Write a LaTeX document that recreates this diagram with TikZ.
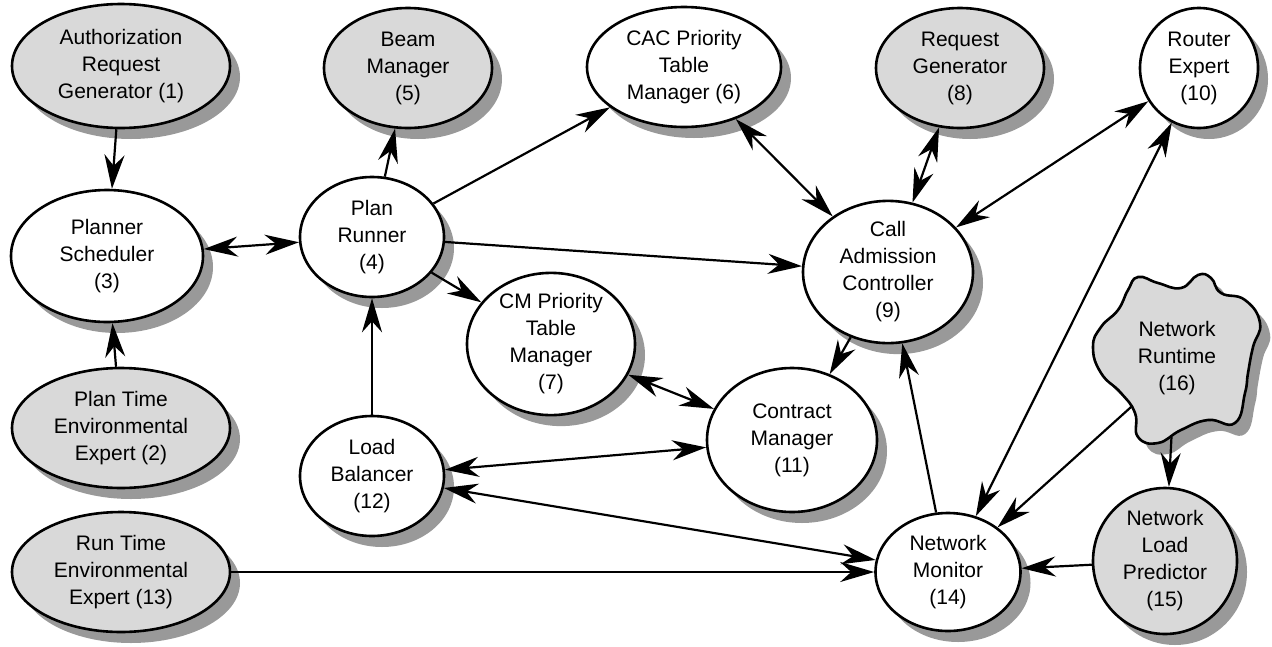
\documentclass[tikz,border=0pt]{standalone}
\usepackage{fontspec}
\setmainfont{Liberation Sans}
\usetikzlibrary{arrows.meta,shapes.geometric,shadows}
\definecolor{lgray}{RGB}{217,217,217}
\definecolor{sgray}{RGB}{153,153,153}
\tikzset{
  agent/.style={ellipse, draw, line width=2.6pt, fill=white, inner sep=0pt, align=center,
    font=\fontsize{21pt}{27pt}\selectfont,
    drop shadow={shadow xshift=10pt, shadow yshift=-11pt, fill=sgray, opacity=1}},
  extagent/.style={agent, fill=lgray},
  sz/.style 2 args={minimum width=#1pt, minimum height=#2pt},
  bigtip/.tip={Stealth[length=34pt 0, width=20pt 0, inset=11pt 0]},
  arr/.style={-bigtip, line width=2.2pt},
  darr/.style={bigtip-bigtip, line width=2.2pt}
}
\begin{document}
\begin{tikzpicture}[x=1pt,y=-1pt]
\useasboundingbox (0,0) rectangle (1272,646);
% cloud (16)
\fill[sgray, shift={(10,11)}] plot[smooth cycle, tension=0.8] coordinates {(1138,277) (1158,283) (1181,288) (1198,275) (1211,278) (1221,293) (1245,300) (1260,323) (1253,347) (1248,373) (1245,393) (1235,423) (1208,420) (1181,430) (1158,443) (1138,437) (1135,413) (1121,393) (1101,373) (1093,347) (1101,327) (1118,310) (1128,290)};
\draw[fill=lgray, line width=2.6pt] plot[smooth cycle, tension=0.8] coordinates {(1138,277) (1158,283) (1181,288) (1198,275) (1211,278) (1221,293) (1245,300) (1260,323) (1253,347) (1248,373) (1245,393) (1235,423) (1208,420) (1181,430) (1158,443) (1138,437) (1135,413) (1121,393) (1101,373) (1093,347) (1101,327) (1118,310) (1128,290)};
\node[ellipse, inner sep=0pt, minimum width=102pt, minimum height=158pt, align=center,
  font=\fontsize{21pt}{27pt}\selectfont] (n16) at (1177,358) {Network\\Runtime\\(16)};

\node[extagent, sz={218}{124}] (n1) at (121,66) {Authorization\\Request\\Generator (1)};
\node[extagent, sz={218}{120}] (n2) at (121,428) {Plan Time\\Environmental\\Expert (2)};
\node[agent, sz={192}{132}] (n3) at (107,256) {Planner\\Scheduler\\(3)};
\node[agent, sz={144}{120}] (n4) at (372,237) {Plan\\Runner\\(4)};
\node[extagent, sz={168}{120}] (n5) at (408,68) {Beam\\Manager\\(5)};
\node[agent, sz={194}{120}] (n6) at (684,67) {CAC Priority\\Table\\Manager (6)};
\node[agent, sz={168}{142}] (n7) at (551,344) {CM Priority\\Table\\Manager\\(7)};
\node[extagent, sz={168}{120}] (n8) at (960,68) {Request\\Generator\\(8)};
\node[agent, sz={170}{142}] (n9) at (888,272) {Call\\Admission\\Controller\\(9)};
\node[agent, sz={118}{120}] (n10) at (1199,68) {Router\\Expert\\(10)};
\node[agent, sz={170}{144}] (n11) at (792,440) {Contract\\Manager\\(11)};
\node[agent, sz={144}{120}] (n12) at (372,476) {Load\\Balancer\\(12)};
\node[extagent, sz={218}{120}] (n13) at (121,572) {Run Time\\Environmental\\Expert (13)};
\node[agent, sz={145}{118}] (n14) at (948,572) {Network\\Monitor\\(14)};
\node[extagent, sz={144}{146}] (n15) at (1165,561) {Network\\Load\\Predictor\\(15)};

\draw[arr] (n1) -- (n3);
\draw[arr] (n2) -- (n3);
\draw[darr] (n3) -- (n4);
\draw[arr] (n4) -- (n5);
\draw[arr] (n4) -- (n6);
\draw[arr] (n4) -- (n9);
\draw[arr] (n4) -- (n7);
\draw[arr] (n12) -- (n4);
\draw[darr] (n6) -- (n9);
\draw[darr] (n8) -- (n9);
\draw[darr] (n10) -- (n9);
\draw[arr] (n9) -- (n11);
\draw[darr] (n7) -- (n11);
\draw[darr] (n12) -- (n11);
\draw[darr] (n12) -- (n14);
\draw[arr] (n13) -- (n14);
\draw[arr] (n14) -- (n9);
\draw[darr] (n14) -- (n10);
\draw[arr] (n16.227) -- (n14);
\draw[arr] (n16.266) -- (n15);
\draw[arr] (n15) -- (n14);
\end{tikzpicture}
\end{document}
